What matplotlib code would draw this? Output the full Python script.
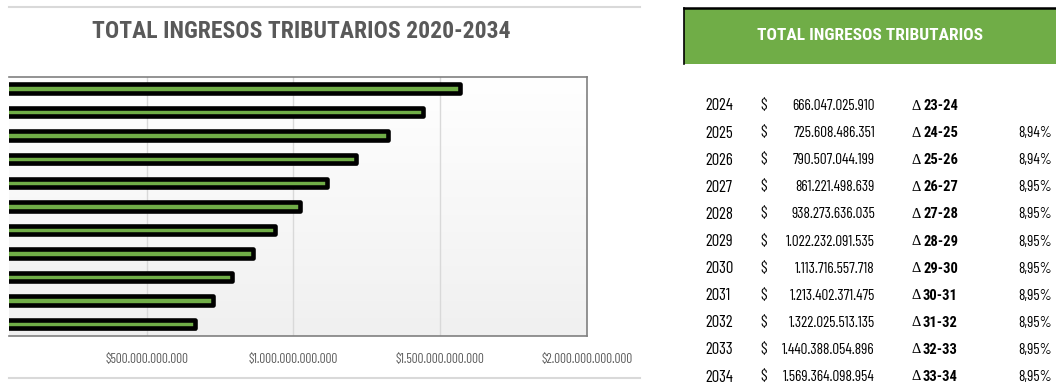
import matplotlib
matplotlib.use("Agg")
import matplotlib.pyplot as plt
import matplotlib.patheffects as pe
from matplotlib.lines import Line2D
from matplotlib.patches import Rectangle
import numpy as np

# ---------------- data ----------------
years = [2024, 2025, 2026, 2027, 2028, 2029, 2030, 2031, 2032, 2033, 2034]
totals = [666047025910, 725608486351, 790507044199, 861221498639, 938273636035,
          1022232091535, 1113716557718, 1213402371475, 1322025513135,
          1440388054896, 1569364098954]
delta_labels = ["23-24", "24-25", "25-26", "26-27", "27-28", "28-29",
                "29-30", "30-31", "31-32", "32-33", "33-34"]
pct_labels = ["", "8,94%", "8,94%", "8,95%", "8,95%", "8,95%", "8,95%",
              "8,95%", "8,95%", "8,95%", "8,95%"]
x_ticks = [500e9, 1000e9, 1500e9, 2000e9]
chart_title = "TOTAL INGRESOS TRIBUTARIOS 2020-2034"
table_title = "TOTAL INGRESOS TRIBUTARIOS"

NARROW = ["Roboto Condensed", "Archivo Narrow", "DejaVu Sans"]
NARROWER = ["Barlow Condensed", "Roboto Condensed", "DejaVu Sans"]

W, H = 1056, 385
fig = plt.figure(figsize=(W / 100, H / 100), dpi=100)
fig.patch.set_facecolor("white")


def fx(px):
    return px / W


def fy(py):
    return 1 - py / H


def fmt(v):
    return "$" + f"{v:,.0f}".replace(",", ".")


# ---------------- bar chart ----------------
left_px, right_px, top_px, bot_px = 9, 586.7, 76.7, 336
ax = fig.add_axes([fx(left_px), fy(bot_px), fx(right_px - left_px), (bot_px - top_px) / H])

# gradient background (white at top, light grey at bottom)
grad = np.linspace(0, 1, 256).reshape(-1, 1)
ax.imshow(grad, extent=[0, 1, 0, 1], transform=ax.transAxes, aspect="auto",
          cmap=matplotlib.colors.LinearSegmentedColormap.from_list("g", ["#ffffff", "#f0f0f0"]),
          vmin=0, vmax=1, zorder=0)

xmin = left_px / (586.7 / 2000e9)
ax.set_xlim(xmin, 2000e9)
ax.set_ylim(-0.5, len(years) - 0.5)

ypos = np.arange(len(years))
bars = ax.barh(ypos, totals, height=0.36, color="#70AD47", edgecolor="black",
               linewidth=3.3, zorder=3)
for b in bars:
    b.set_joinstyle("round")
    b.set_path_effects([pe.SimplePatchShadow(offset=(1.5, -1.5), shadow_rgbFace="#808080", alpha=0.5),
                        pe.Normal()])

for xv in x_ticks[:-1]:
    ax.axvline(xv, color="#d9d9d9", linewidth=1, zorder=1)

ax.set_xticks(x_ticks)
ax.set_xticklabels([fmt(v) for v in x_ticks], family=NARROWER, fontsize=9.5, color="#595959")
ax.set_yticks([])
ax.tick_params(axis="x", length=0, pad=12)
for s in ["top", "right", "bottom"]:
    ax.spines[s].set_color("#808080")
    ax.spines[s].set_linewidth(1.2)
ax.spines["left"].set_visible(False)

# chart title
fig.text(fx(301), fy(32), chart_title, ha="center", va="center", family=NARROW,
         fontsize=17, fontweight="bold", color="#595959")

# outer chart frame lines
fig.add_artist(Line2D([fx(9), fx(640)], [fy(7), fy(7)], color="#d9d9d9", linewidth=1.5))
fig.add_artist(Line2D([fx(9), fx(640)], [fy(378), fy(378)], color="#d9d9d9", linewidth=1.5))

# ---------------- table ----------------
fig.add_artist(Rectangle((fx(684), fy(64)), fx(1056 - 684), (64 - 8) / H,
                         facecolor="#70AD47", edgecolor="none"))
fig.add_artist(Line2D([fx(684), fx(1056)], [fy(8), fy(8)], color="black", linewidth=1.8))
fig.add_artist(Line2D([fx(684), fx(684)], [fy(8), fy(64)], color="black", linewidth=1.2))
fig.text(fx(870), fy(36), table_title, ha="center", va="center", family=NARROW,
         fontsize=12.5, fontweight="bold", color="white")

row0, step = 106, 27.1
for i, (yr, tot, dl, pc) in enumerate(zip(years, totals, delta_labels, pct_labels)):
    yy = fy(row0 + i * step)
    fig.text(fx(705), yy, str(yr), ha="left", va="center", family=NARROWER, fontsize=12, color="black")
    fig.text(fx(760), yy, "$", ha="left", va="center", family=NARROWER, fontsize=11.5, color="black")
    fig.text(fx(875), yy, f"{tot:,.0f}".replace(",", "."), ha="right", va="center",
             family=NARROWER, fontsize=11, color="black")
    fig.text(fx(912), yy, "\u0394", ha="left", va="center", family=["Liberation Serif", "DejaVu Serif"],
             fontsize=10.5, color="black")
    fig.text(fx(923), yy, dl, ha="left", va="center", family=NARROW, fontsize=10.5,
             fontweight="bold", color="black")
    if pc:
        fig.text(fx(1052), yy, pc, ha="right", va="center", family=NARROWER, fontsize=11, color="black")

fig.savefig("out.png", dpi=100)
